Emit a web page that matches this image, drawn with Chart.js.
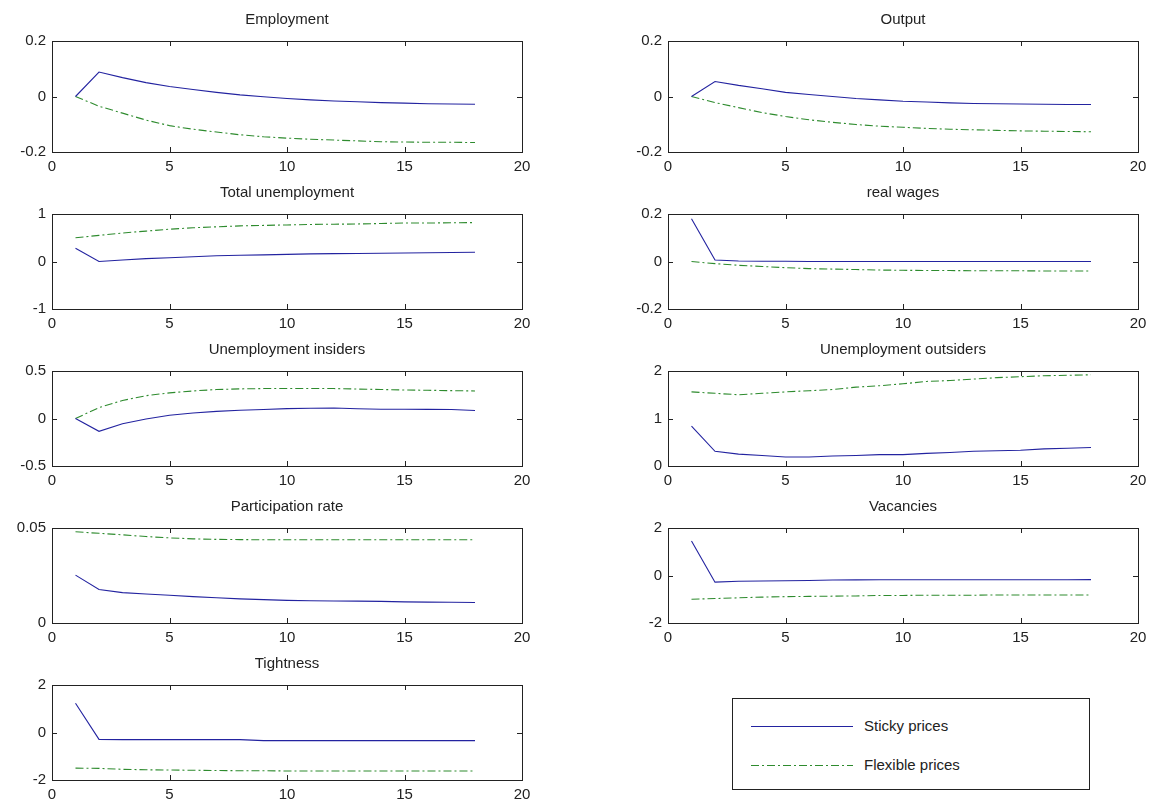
<!DOCTYPE html>
<html>
<head>
<meta charset="utf-8">
<title>Sticky vs flexible prices</title>
<script src="https://cdn.jsdelivr.net/npm/chart.js@4.4.1/dist/chart.umd.min.js"></script>
<style>
  html, body { margin: 0; padding: 0; background: #fff; }
  #page { position: relative; width: 1159px; height: 807px; overflow: hidden; font-family: "Liberation Sans", Arial, sans-serif; color: #222; }
  .panel { position: absolute; }
  .ttl { position: absolute; font-size: 15px; text-align: center; white-space: nowrap; transform: translate(-50%, -50%); }
  #legend { position: absolute; left: 732px; top: 698px; width: 356px; height: 90px; border: 1px solid #222; background: #fff; }
  #legend .row { position: absolute; left: 0; height: 20px; font-size: 15px; }
  #legend svg { position: absolute; left: 18px; top: 4px; }
  #legend span { position: absolute; left: 131px; top: 1px; white-space: nowrap; }
</style>
</head>
<body>
<div id="page"></div>
<script>
/* impulse responses, sticky vs flexible prices */

const periods = [1, 2, 3, 4, 5, 6, 7, 8, 9, 10, 11, 12, 13, 14, 15, 16, 17, 18];
const xTicks = [0, 5, 10, 15, 20];

const employmentSticky = [0, 0.088, 0.068, 0.050, 0.036, 0.025, 0.015, 0.006, -0.001, -0.007, -0.012, -0.016, -0.019, -0.022, -0.024, -0.026, -0.027, -0.028];
const employmentFlex = [0, -0.035, -0.060, -0.085, -0.105, -0.118, -0.128, -0.138, -0.145, -0.150, -0.154, -0.157, -0.160, -0.163, -0.164, -0.165, -0.165, -0.166];

const outputSticky = [0, 0.054, 0.040, 0.028, 0.015, 0.007, 0.000, -0.007, -0.012, -0.017, -0.020, -0.023, -0.025, -0.026, -0.027, -0.028, -0.029, -0.029];
const outputFlex = [0, -0.022, -0.040, -0.058, -0.072, -0.084, -0.093, -0.101, -0.107, -0.111, -0.115, -0.118, -0.120, -0.122, -0.124, -0.125, -0.126, -0.127];

const totalUnempSticky = [0.28, 0.0, 0.03, 0.06, 0.08, 0.10, 0.12, 0.13, 0.14, 0.15, 0.16, 0.165, 0.17, 0.175, 0.18, 0.185, 0.19, 0.195];
const totalUnempFlex = [0.50, 0.55, 0.60, 0.64, 0.68, 0.71, 0.73, 0.75, 0.76, 0.77, 0.78, 0.785, 0.79, 0.80, 0.81, 0.81, 0.815, 0.82];

const wagesSticky = [0.18, 0.006, 0.002, 0.001, 0.001, 0, 0, 0, 0, 0, 0, 0, 0, 0, 0, 0, 0, 0];
const wagesFlex = [0, -0.009, -0.016, -0.021, -0.026, -0.030, -0.032, -0.034, -0.036, -0.037, -0.038, -0.038, -0.039, -0.039, -0.039, -0.040, -0.040, -0.040];

const insidersSticky = [0, -0.135, -0.055, -0.005, 0.035, 0.058, 0.075, 0.087, 0.095, 0.104, 0.108, 0.110, 0.103, 0.098, 0.097, 0.096, 0.094, 0.085];
const insidersFlex = [0, 0.115, 0.19, 0.24, 0.27, 0.29, 0.305, 0.312, 0.315, 0.316, 0.316, 0.315, 0.31, 0.305, 0.30, 0.297, 0.293, 0.29];

const outsidersSticky = [0.84, 0.31, 0.25, 0.22, 0.19, 0.19, 0.21, 0.22, 0.24, 0.24, 0.265, 0.285, 0.31, 0.32, 0.33, 0.36, 0.375, 0.39];
const outsidersFlex = [1.56, 1.53, 1.50, 1.53, 1.56, 1.585, 1.61, 1.66, 1.69, 1.73, 1.78, 1.80, 1.83, 1.86, 1.88, 1.90, 1.91, 1.92];

const participationSticky = [0.0252, 0.0176, 0.0160, 0.0153, 0.0146, 0.0139, 0.0133, 0.0127, 0.0123, 0.0119, 0.0117, 0.0116, 0.0115, 0.0114, 0.0111, 0.0110, 0.0109, 0.0108];
const participationFlex = [0.0480, 0.0472, 0.0464, 0.0455, 0.0448, 0.0443, 0.0440, 0.0439, 0.0438, 0.0438, 0.0438, 0.0438, 0.0438, 0.0438, 0.0438, 0.0438, 0.0438, 0.0438];

const vacanciesSticky = [1.45, -0.28, -0.24, -0.23, -0.22, -0.21, -0.19, -0.185, -0.18, -0.18, -0.18, -0.18, -0.18, -0.18, -0.18, -0.18, -0.18, -0.175];
const vacanciesFlex = [-1.00, -0.97, -0.94, -0.91, -0.89, -0.88, -0.87, -0.86, -0.84, -0.84, -0.83, -0.83, -0.83, -0.82, -0.82, -0.82, -0.82, -0.82];

const tightnessSticky = [1.23, -0.29, -0.30, -0.30, -0.30, -0.30, -0.30, -0.30, -0.34, -0.34, -0.34, -0.34, -0.34, -0.34, -0.34, -0.34, -0.34, -0.34];
const tightnessFlex = [-1.50, -1.51, -1.55, -1.57, -1.58, -1.59, -1.60, -1.61, -1.61, -1.62, -1.62, -1.62, -1.62, -1.62, -1.62, -1.62, -1.62, -1.62];

const seriesNames = ['Sticky prices', 'Flexible prices'];

const STICKY_COLOR = '#2323a0';
const FLEX_COLOR = '#2e8b2e';
const DASH_DOT = [8, 3, 2, 3];

// plot-area boxes (left, top, width, height)
const COL_X = [52, 668];
const ROWS = [[38, 114], [211, 98], [368, 98], [525, 98], [682, 98]];
const PLOT_W = 470;

const panels = [
  { title: 'Employment', col: 0, row: 0, yMin: -0.2, yMax: 0.2, step: 0.2, sticky: employmentSticky, flex: employmentFlex },
  { title: 'Output', col: 1, row: 0, yMin: -0.2, yMax: 0.2, step: 0.2, sticky: outputSticky, flex: outputFlex },
  { title: 'Total unemployment', col: 0, row: 1, yMin: -1, yMax: 1, step: 1, sticky: totalUnempSticky, flex: totalUnempFlex },
  { title: 'real wages', col: 1, row: 1, yMin: -0.2, yMax: 0.2, step: 0.2, sticky: wagesSticky, flex: wagesFlex },
  { title: 'Unemployment insiders', col: 0, row: 2, yMin: -0.5, yMax: 0.5, step: 0.5, sticky: insidersSticky, flex: insidersFlex },
  { title: 'Unemployment outsiders', col: 1, row: 2, yMin: 0, yMax: 2, step: 1, sticky: outsidersSticky, flex: outsidersFlex },
  { title: 'Participation rate', col: 0, row: 3, yMin: 0, yMax: 0.05, step: 0.05, sticky: participationSticky, flex: participationFlex },
  { title: 'Vacancies', col: 1, row: 3, yMin: -2, yMax: 2, step: 2, sticky: vacanciesSticky, flex: vacanciesFlex },
  { title: 'Tightness', col: 0, row: 4, yMin: -2, yMax: 2, step: 2, sticky: tightnessSticky, flex: tightnessFlex }
];

// matlab-like box with inward ticks on all four sides
const boxTicks = {
  id: 'boxTicks',
  afterDraw(chart) {
    const { ctx, chartArea: a, scales } = chart;
    const len = 5;
    ctx.save();
    ctx.strokeStyle = '#222';
    ctx.lineWidth = 1;
    ctx.beginPath();
    scales.x.ticks.forEach(t => {
      const px = Math.round(scales.x.getPixelForValue(t.value)) + 0.5;
      ctx.moveTo(px, a.bottom); ctx.lineTo(px, a.bottom - len);
      ctx.moveTo(px, a.top); ctx.lineTo(px, a.top + len);
    });
    scales.y.ticks.forEach(t => {
      const py = Math.round(scales.y.getPixelForValue(t.value)) + 0.5;
      ctx.moveTo(a.left, py); ctx.lineTo(a.left + len, py);
      ctx.moveTo(a.right, py); ctx.lineTo(a.right - len, py);
    });
    ctx.stroke();
    ctx.strokeRect(Math.round(a.left) + 0.5, Math.round(a.top) + 0.5, Math.round(a.right - a.left), Math.round(a.bottom - a.top));
    ctx.restore();
  }
};

const fmt = v => String(Number(v.toFixed(4)));
const toPoints = vals => periods.map((p, i) => ({ x: p, y: vals[i] }));

function makePanel(page, p) {
  const Y_AXIS_W = 52, PAD_TOP = 12, PAD_RIGHT = 18, X_AXIS_H = 28;
  const [top, h] = ROWS[p.row];
  const left = COL_X[p.col];

  const canvas = document.createElement('canvas');
  canvas.className = 'panel';
  canvas.width = Y_AXIS_W + PLOT_W + PAD_RIGHT;
  canvas.height = PAD_TOP + h + X_AXIS_H;
  canvas.style.left = (left - Y_AXIS_W) + 'px';
  canvas.style.top = (top - PAD_TOP) + 'px';
  page.appendChild(canvas);

  const ttl = document.createElement('div');
  ttl.className = 'ttl';
  ttl.textContent = p.title;
  ttl.style.left = (left + PLOT_W / 2) + 'px';
  ttl.style.top = (top - 20) + 'px';
  page.appendChild(ttl);

  const tickFont = { family: '"Liberation Sans", Arial, sans-serif', size: 15 };

  return new Chart(canvas, {
    type: 'line',
    data: {
      datasets: [
        { label: seriesNames[0], data: toPoints(p.sticky), borderColor: STICKY_COLOR, borderWidth: 1.1, pointRadius: 0, tension: 0, fill: false },
        { label: seriesNames[1], data: toPoints(p.flex), borderColor: FLEX_COLOR, borderWidth: 1.1, borderDash: DASH_DOT, pointRadius: 0, tension: 0, fill: false }
      ]
    },
    options: {
      responsive: false,
      animation: false,
      devicePixelRatio: 1,
      layout: { padding: { top: PAD_TOP, right: PAD_RIGHT, left: 0, bottom: 0 } },
      plugins: { legend: { display: false }, tooltip: { enabled: false }, title: { display: false } },
      scales: {
        x: {
          type: 'linear', min: 0, max: 20,
          afterBuildTicks: s => { s.ticks = xTicks.map(v => ({ value: v })); },
          afterFit: s => { s.height = X_AXIS_H; },
          grid: { display: false, drawTicks: false },
          border: { display: false },
          ticks: { color: '#222', font: tickFont, padding: 6, maxRotation: 0, autoSkip: false, callback: fmt }
        },
        y: {
          type: 'linear', min: p.yMin, max: p.yMax,
          ticks: { stepSize: p.step, color: '#222', font: tickFont, padding: 6, autoSkip: false, callback: fmt },
          afterFit: s => { s.width = Y_AXIS_W; },
          grid: { display: false, drawTicks: false },
          border: { display: false }
        }
      }
    },
    plugins: [boxTicks]
  });
}

function buildLegend(page) {
  const box = document.createElement('div');
  box.id = 'legend';
  const rows = [
    { top: 17, color: STICKY_COLOR, dash: '' },
    { top: 56, color: FLEX_COLOR, dash: DASH_DOT.join(',') }
  ];
  rows.forEach((r, i) => {
    const row = document.createElement('div');
    row.className = 'row';
    row.style.top = r.top + 'px';
    row.style.width = '100%';
    row.innerHTML =
      '<svg width="104" height="12"><line x1="0" y1="6.5" x2="102" y2="6.5" stroke="' + r.color +
      '" stroke-width="1" stroke-dasharray="' + r.dash + '"/></svg><span>' + seriesNames[i] + '</span>';
    box.appendChild(row);
  });
  page.appendChild(box);
}

document.addEventListener('DOMContentLoaded', () => {
  const page = document.getElementById('page');
  panels.forEach(p => makePanel(page, p));
  buildLegend(page);
});
</script>
</body>
</html>
